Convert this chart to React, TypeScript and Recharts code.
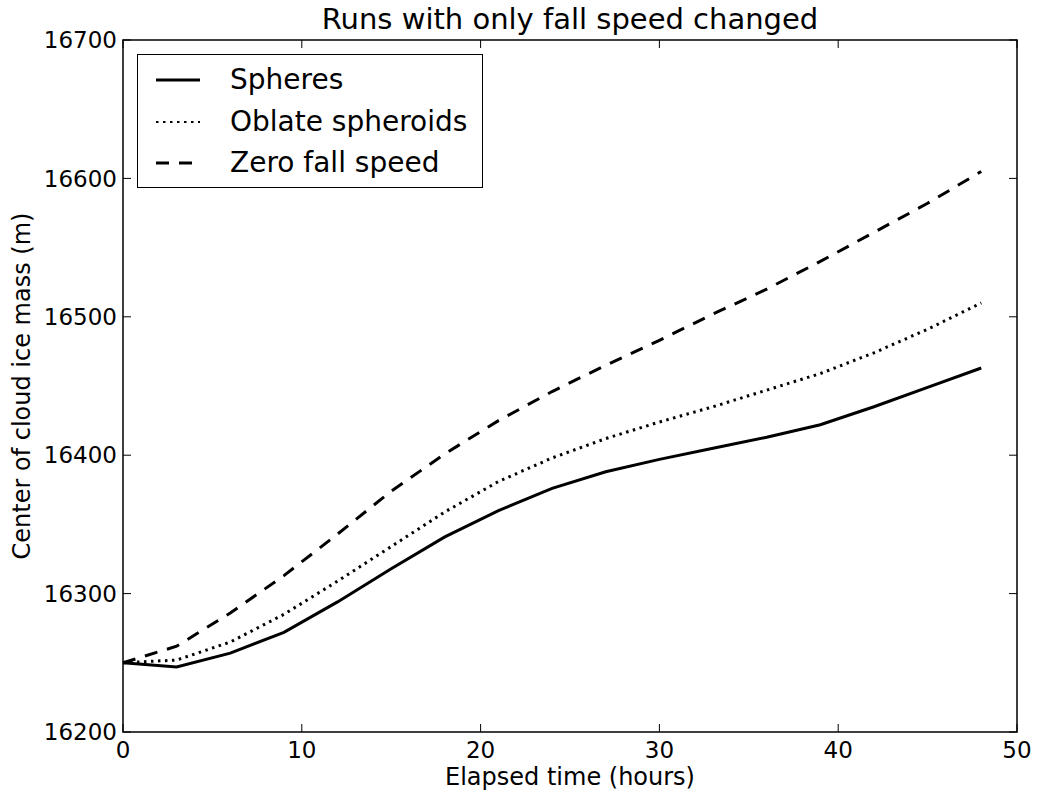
import { LineChart, Line, XAxis, YAxis, Legend, ReferenceArea } from "recharts";

const hours = [0, 3, 6, 9, 12, 15, 18, 21, 24, 27, 30, 33, 36, 39, 42, 45, 48];
const spheres = [16250, 16247, 16257, 16272, 16294, 16318, 16341, 16360, 16376, 16388, 16397, 16405, 16413, 16422, 16435, 16449, 16463];
const oblate = [16250, 16252, 16265, 16285, 16309, 16334, 16359, 16381, 16398, 16412, 16424, 16435, 16447, 16459, 16474, 16491, 16510];
const zeroFall = [16250, 16262, 16286, 16313, 16343, 16374, 16401, 16425, 16446, 16465, 16483, 16502, 16520, 16540, 16561, 16582, 16605];

const xTicks = [0, 10, 20, 30, 40, 50];
const yTicks = [16200, 16300, 16400, 16500, 16600, 16700];

const title = "Runs with only fall speed changed";
const xLabel = "Elapsed time (hours)";
const yLabel = "Center of cloud ice mass (m)";

const series = [
  { key: "spheres", name: "Spheres", dash: undefined as string | undefined },
  { key: "oblate", name: "Oblate spheroids", dash: "2.5 4.5" },
  { key: "zero", name: "Zero fall speed", dash: "13 10" },
];

const data = hours.map((h, i) => ({
  h,
  spheres: spheres[i],
  oblate: oblate[i],
  zero: zeroFall[i],
}));

const FONT = "DejaVu Sans";
const W = 1037;
const H = 794;
const M = { top: 40, right: 20, bottom: 0, left: 0 };
const X_AXIS_H = 62;
const Y_AXIS_W = 123;
const PLOT_TOP = M.top;
const PLOT_BOTTOM = H - M.bottom - X_AXIS_H;
const PLOT_LEFT = M.left + Y_AXIS_W;
const PLOT_RIGHT = W - M.right;
const TICK_LEN = 8;

// matplotlib-style ticks: pointing inwards, mirrored on the opposite spine
const XTick = ({ x, y, payload }: any) => (
  <g>
    <line x1={x} x2={x} y1={PLOT_BOTTOM} y2={PLOT_BOTTOM - TICK_LEN} stroke="#000" strokeWidth={1} />
    <line x1={x} x2={x} y1={PLOT_TOP} y2={PLOT_TOP + TICK_LEN} stroke="#000" strokeWidth={1} />
    <text x={x} y={y} dy="0.71em" textAnchor="middle" fontSize={23} fontFamily={FONT} fill="#000">
      {payload.value}
    </text>
  </g>
);

const YTick = ({ x, y, payload }: any) => (
  <g>
    <line x1={PLOT_LEFT} x2={PLOT_LEFT + TICK_LEN} y1={y} y2={y} stroke="#000" strokeWidth={1} />
    <line x1={PLOT_RIGHT} x2={PLOT_RIGHT - TICK_LEN} y1={y} y2={y} stroke="#000" strokeWidth={1} />
    <text x={x} y={y} dy="0.355em" textAnchor="end" fontSize={23} fontFamily={FONT} fill="#000">
      {payload.value}
    </text>
  </g>
);

const TitleLabel = ({ viewBox }: any) => (
  <text
    x={viewBox.x + viewBox.width / 2}
    y={29}
    textAnchor="middle"
    fontSize={29}
    fontFamily={FONT}
    fill="#000"
  >
    {title}
  </text>
);

const XLabel = ({ viewBox }: any) => (
  <text
    x={viewBox.x + viewBox.width / 2}
    y={785}
    textAnchor="middle"
    fontSize={24}
    fontFamily={FONT}
    fill="#000"
  >
    {xLabel}
  </text>
);

const YLabel = ({ viewBox }: any) => {
  const cy = viewBox.y + viewBox.height / 2;
  return (
    <text
      x={30}
      y={cy}
      textAnchor="middle"
      fontSize={24}
      fontFamily={FONT}
      fill="#000"
      transform={`rotate(-90, 30, ${cy})`}
    >
      {yLabel}
    </text>
  );
};

const LegendBox = () => (
  <div
    style={{
      position: "relative",
      width: 346,
      height: 134,
      border: "1.5px solid #000",
      boxSizing: "border-box",
      background: "#fff",
      fontFamily: FONT,
      fontSize: 28,
    }}
  >
    {series.map((s, i) => (
      <div
        key={s.key}
        style={{ position: "absolute", left: 0, top: 5 + i * 41.5, height: 40, width: "100%" }}
      >
        <svg width={60} height={40} style={{ position: "absolute", left: 16, top: 0 }}>
          <line
            x1={2}
            x2={46}
            y1={20}
            y2={20}
            stroke="#000"
            strokeWidth={i === 1 ? 2 : 3}
            strokeDasharray={s.dash}
          />
        </svg>
        <span
          style={{
            position: "absolute",
            left: 92,
            top: 20,
            transform: "translateY(-50%)",
            lineHeight: 1,
            whiteSpace: "nowrap",
          }}
        >
          {s.name}
        </span>
      </div>
    ))}
  </div>
);

export default function App() {
  return (
    <div style={{ position: "absolute", left: 0, top: 0, width: W, height: H, background: "#fff" }}>
      <LineChart width={W} height={H} data={data} margin={M}>
        <XAxis
          dataKey="h"
          type="number"
          domain={[0, 50]}
          ticks={xTicks}
          height={X_AXIS_H}
          tickSize={0}
          tickMargin={10}
          axisLine={false}
          tickLine={false}
          tick={<XTick />}
          label={<XLabel />}
        />
        <YAxis
          type="number"
          domain={[16200, 16700]}
          ticks={yTicks}
          width={Y_AXIS_W}
          tickSize={0}
          tickMargin={6}
          axisLine={false}
          tickLine={false}
          tick={<YTick />}
          label={<YLabel />}
        />
        <ReferenceArea
          x1={0}
          x2={50}
          y1={16200}
          y2={16700}
          fill="none"
          fillOpacity={0}
          stroke="#000"
          strokeWidth={1.5}
          label={<TitleLabel />}
        />
        {series.map((s) => (
          <Line
            key={s.key}
            type="linear"
            dataKey={s.key}
            name={s.name}
            stroke="#000"
            strokeWidth={3}
            strokeDasharray={s.dash}
            dot={false}
            activeDot={false}
            isAnimationActive={false}
          />
        ))}
        <Legend
          layout="vertical"
          align="center"
          verticalAlign="middle"
          wrapperStyle={{ top: 54, left: 137, width: 346, height: 134 }}
          content={<LegendBox />}
        />
      </LineChart>
    </div>
  );
}
